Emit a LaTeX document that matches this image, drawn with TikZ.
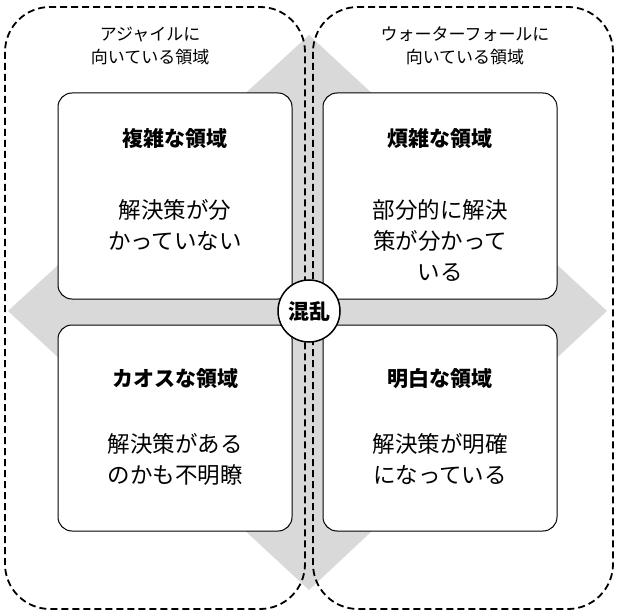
\documentclass[tikz,border=0pt]{standalone}
\usepackage{fontspec}
\setmainfont{Noto Sans CJK JP}
\usetikzlibrary{positioning}

\tikzset{
  zone/.style={draw,line width=1.8pt,dash pattern=on 7pt off 4pt,rounded corners=45pt},
  areabox/.style={draw,line width=1pt,fill=white,rounded corners=14pt,minimum width=234pt,minimum height=206pt},
  title/.style={font=\fontsize{21}{25}\selectfont\bfseries},
  body/.style={font=\fontsize{22.5}{31}\selectfont,align=center},
  head/.style={font=\fontsize{17}{23}\selectfont,align=center}
}

\begin{document}
\begin{tikzpicture}[x=1pt,y=-1pt]
\useasboundingbox (0,0) rectangle (619,615);
% background diamond
\fill[gray!30] (309,35) -- (607,311) -- (309,590) -- (8,311) -- cycle;
% zones
\draw[zone] (5,7) rectangle (305,609);
\draw[zone] (313,7) rectangle (613,609);
\node[head] (agile) at (150,46) {アジャイルに\\向いている領域};
\node[head] (water) at (465,46) {ウォーターフォールに\\向いている領域};
% areas
\node[areabox] (complex) at (175,196) {};
\node[areabox] (complicated) at (440,196) {};
\node[areabox] (chaos) at (175,428) {};
\node[areabox] (clear) at (440,428) {};
\node[title] (t1) at (175,139) {複雑な領域};
\node[title] (t2) at (440,139) {煩雑な領域};
\node[title] (t3) at (175,379) {カオスな領域};
\node[title] (t4) at (440,379) {明白な領域};
\node[body] (b1) at (175,225) {解決策が分\\かっていない};
\node[body] (b2) at (440,240) {部分的に解決\\策が分かって\\いる};
\node[body] (b3) at (175,459) {解決策がある\\のかも不明瞭};
\node[body] (b4) at (440,459) {解決策が明確\\になっている};
% center
\node[draw,line width=1.5pt,fill=white,circle,minimum size=62pt,title] (confused) at (309,311) {混乱};
\end{tikzpicture}
\end{document}
